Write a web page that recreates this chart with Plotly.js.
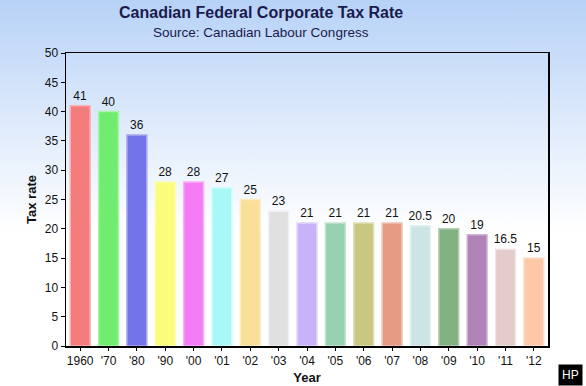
<!DOCTYPE html>
<html>
<head>
<meta charset="utf-8">
<script src="https://cdn.plot.ly/plotly-3.0.1.min.js"></script>
<style>
html,body{margin:0;padding:0;}
body{background:linear-gradient(to bottom,#b7d2f7 0%,#dce9fb 30%,#ffffff 60%,#ffffff 100%);width:586px;height:386px;overflow:hidden;}
#chart{width:586px;height:386px;}
</style>
</head>
<body>
<div id="chart"></div>
<script>
const categories = ["1960","'70","'80","'90","'00","'01","'02","'03","'04","'05","'06","'07","'08","'09","'10","'11","'12"];
const taxRate = [41,40,36,28,28,27,25,23,21,21,21,21,20.5,20,19,16.5,15];
const barColors = ["#f47c7c","#70ec70","#7474ea","#fbfb7c","#f47cf4","#a8f8f8","#fadf98","#e0e0e0","#c8b2f8","#98d0b2","#c8c882","#e69c84","#cce4e4","#82b282","#b082b8","#e4cccc","#fcc8a8"];
const edgeColors = ["#f8b0b0","#a8f4a8","#a8a8f0","#fcfcb0","#f8b0f8","#d0fcfc","#fcecc0","#f0f0f0","#e0d4fc","#c4e4d0","#e0e0b4","#f0c4b4","#e4f0f0","#b4d0b4","#d0b4d4","#f0e4e4","#fde0d0"];
const titleText = "Canadian Federal Corporate Tax Rate";
const subtitleText = "Source: Canadian Labour Congress";

const trace = {
  type: 'bar',
  x: categories,
  y: taxRate,
  text: taxRate.map(String),
  textposition: 'outside',
  constraintext: 'none',
  cliponaxis: false,
  textfont: {family: 'Liberation Sans, Arial, sans-serif', size: 12, color: '#111'},
  marker: {color: barColors, line: {color: edgeColors, width: 1.5}},
  width: 0.7,
  hoverinfo: 'x+y'
};

const layout = {
  width: 586, height: 386,
  margin: {l: 66, r: 38, t: 53, b: 40},
  paper_bgcolor: 'rgba(0,0,0,0)',
  plot_bgcolor: 'rgba(0,0,0,0)',
  font: {family: 'Liberation Sans, Arial, sans-serif', color: '#111'},
  showlegend: false,
  xaxis: {
    type: 'category',
    showline: true, linecolor: '#000', linewidth: 1.5, mirror: true,
    ticks: 'outside', ticklen: 3, tickcolor: '#000',
    tickfont: {size: 12, color: '#111'},
    title: {text: '<b>Year</b>', font: {size: 13, color: '#111'}, standoff: 6},
    showgrid: false
  },
  yaxis: {
    range: [0, 50], dtick: 5,
    showline: true, linecolor: '#000', linewidth: 1.5, mirror: true,
    ticks: 'outside', ticklen: 4, tickcolor: '#000',
    tickfont: {size: 12, color: '#111'},
    title: {text: '<b>Tax rate</b>', font: {size: 13, color: '#111'}, standoff: 5},
    showgrid: false, zeroline: false
  },
  annotations: [
    {text: '<b>' + titleText + '</b>', xref: 'paper', yref: 'paper', x: 0.405, y: 1.138,
     xanchor: 'center', yanchor: 'middle', showarrow: false,
     font: {size: 16, color: '#1a1a4e'}},
    {text: subtitleText, xref: 'paper', yref: 'paper', x: 0.405, y: 1.07,
     xanchor: 'center', yanchor: 'middle', showarrow: false,
     font: {size: 13.5, color: '#1a1a4e'}},
    {text: 'HP', xref: 'paper', yref: 'paper', x: 1.046, y: -0.1,
     xanchor: 'center', yanchor: 'middle', showarrow: false,
     bgcolor: '#000', font: {color: '#fff', size: 12}, borderpad: 3}
  ],
  bargap: 0.3
};

Plotly.newPlot('chart', [trace], layout, {displayModeBar: false, staticPlot: true});
</script>
</body>
</html>
